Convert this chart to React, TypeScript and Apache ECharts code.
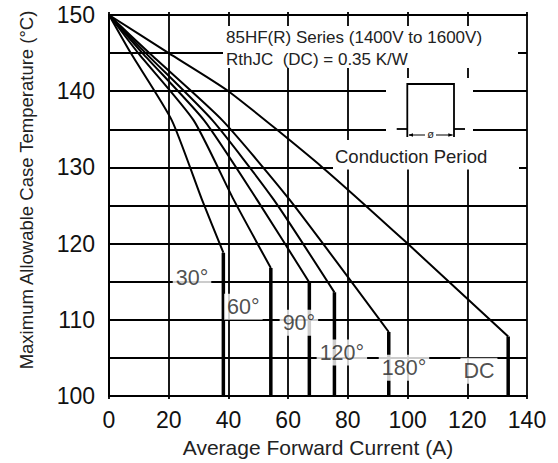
import React, { useEffect, useRef } from "react";
import * as echarts from "echarts";

// ---- data ----
const xTicks = [0, 20, 40, 60, 80, 100, 120, 140];
const yTickLabels = [100, 110, 120, 130, 140, 150];
const yGridStep = 5;

const seriesNames = ["30°", "60°", "90°", "120°", "180°", "DC"];
const curve30 = [[0, 150], [7.3, 145], [21, 136.2], [31.1, 125.8], [38.3, 118.8]];
const curve60 = [[0, 150], [9.8, 145], [28.3, 136.2], [41.7, 125.8], [54.2, 116.8]];
const curve90 = [[0, 150], [11.2, 145], [31.8, 136.2], [49.5, 125.8], [67.1, 114.9]];
const curve120 = [[0, 150], [12.3, 145], [34.6, 136.2], [55.1, 125.8], [75.5, 113.6]];
const curve180 = [[0, 150], [13.5, 145], [37.9, 136.2], [60.4, 125.8], [93.7, 108.4]];
const curveDC = [[0, 150], [20, 145], [40, 140], [71.5, 130], [100, 120], [133.7, 107.8]];
const curves = [curve30, curve60, curve90, curve120, curve180, curveDC];

// curve label anchors (data units)
const labelX = [27.8, 45.0, 63.6, 78.0, 98.8, 123.9];
const labelY = [115.5, 111.7, 109.6, 105.7, 103.7, 103.3];

const FONT = '"Liberation Sans", Arial, Helvetica, sans-serif';

export default function App() {
  const ref = useRef<HTMLDivElement>(null);
  useEffect(() => {
    document.body.style.margin = "0";
    if (!ref.current) return;
    const chart = echarts.init(ref.current, undefined, { renderer: "svg" });
    const xMin = xTicks[0];
    const xMax = xTicks[xTicks.length - 1];
    const xStep = xTicks[1] - xTicks[0];
    const yMin = yTickLabels[0];
    const yMax = yTickLabels[yTickLabels.length - 1];

    const lineSeries: any[] = [];
    curves.forEach((c, i) => {
      lineSeries.push({
        type: "line",
        name: seriesNames[i],
        data: c,
        symbol: "none",
        smooth: 0.2,
        lineStyle: { color: "#000", width: 2, join: "round" },
        z: 3,
      });
      const end = c[c.length - 1];
      lineSeries.push({
        type: "line",
        name: seriesNames[i] + " limit",
        data: [end, [end[0], yMin]],
        symbol: "none",
        lineStyle: { color: "#000", width: 3.5 },
        z: 3,
      });
    });

    const labelSeries = {
      type: "scatter",
      symbolSize: 1,
      itemStyle: { color: "rgba(0,0,0,0)" },
      z: 10,
      data: seriesNames.map((n, i) => ({ name: n, value: [labelX[i], labelY[i]] })),
      label: {
        show: true,
        position: "inside",
        formatter: "{b}",
        color: "#222",
        fontSize: 21.5,
        fontFamily: FONT,
        backgroundColor: "#fff",
        padding: [2, 3, 2, 3],
      },
    };

    const axisCommon = {
      axisLine: { show: true, lineStyle: { color: "#000", width: 1.8 } },
    };
    const gridLine = { show: true, lineStyle: { color: "#000", width: 1.8 } };
    const tickStyle = { color: "#000", width: 1.8 };

    const txt = (text: string, x: number, y: number, size: number) => ({
      type: "text",
      x,
      y,
      z: 20,
      style: {
        text,
        fill: "#222",
        fontSize: size,
        fontFamily: FONT,
        textAlign: "left",
        align: "left",
        textVerticalAlign: "middle",
        verticalAlign: "middle",
      },
    });
    const white = (x: number, y: number, w: number, h: number) => ({
      type: "rect",
      z: 15,
      shape: { x, y, width: w, height: h },
      style: { fill: "#fff" },
    });
    const seg = (x1: number, y1: number, x2: number, y2: number, w = 1.8) => ({
      type: "line",
      z: 20,
      shape: { x1, y1, x2, y2 },
      style: { stroke: "#000", lineWidth: w },
    });

    chart.setOption({
      animation: false,
      grid: { left: 109, right: 31, top: 15, bottom: 66.3, containLabel: false },
      xAxis: [
        {
          type: "value",
          min: xMin,
          max: xMax,
          interval: xStep,
          ...axisCommon,
          axisTick: { show: true, inside: false, length: 3, lineStyle: tickStyle },
          splitLine: gridLine,
          axisLabel: { color: "#111", fontSize: 23, fontFamily: FONT, margin: 12 },
          name: "Average Forward Current (A)",
          nameLocation: "middle",
          nameGap: 41,
          nameTextStyle: { color: "#222", fontSize: 21, fontFamily: FONT },
        },
        {
          type: "value",
          position: "top",
          min: xMin,
          max: xMax,
          interval: xStep,
          ...axisCommon,
          axisTick: { show: true, inside: false, length: 3, lineStyle: tickStyle },
          splitLine: { show: false },
          axisLabel: { show: false },
        },
      ],
      yAxis: [
        {
          type: "value",
          min: yMin,
          max: yMax,
          interval: yGridStep,
          ...axisCommon,
          axisTick: { show: false },
          splitLine: gridLine,
          axisLabel: {
            color: "#111",
            fontSize: 23,
            fontFamily: FONT,
            margin: 14,
            formatter: (v: number) => (yTickLabels.indexOf(v) >= 0 ? String(v) : ""),
          },
        },
        {
          type: "value",
          position: "right",
          min: yMin,
          max: yMax,
          interval: yGridStep,
          ...axisCommon,
          axisTick: { show: true, inside: false, length: 5, lineStyle: tickStyle },
          splitLine: { show: false },
          axisLabel: { show: false },
        },
      ],
      series: [...lineSeries, labelSeries],
      graphic: [
        {
          type: "text",
          x: 26,
          y: 190,
          rotation: Math.PI / 2,
          z: 20,
          style: {
            text: "Maximum Allowable Case Temperature (°C)",
            fill: "#222",
            fontSize: 18.5,
            fontFamily: FONT,
            textAlign: "center",
            align: "center",
            textVerticalAlign: "middle",
            verticalAlign: "middle",
          },
        },
        white(223, 26, 295, 42),
        txt("85HF(R) Series (1400V to 1600V)", 226, 37.5, 17),
        txt("RthJC  (DC) = 0.35 K/W", 226, 59.5, 17),
        white(386, 78, 87, 64),
        white(333, 140, 186, 29.5),
        txt("Conduction Period", 335, 156.5, 18.5),
        {
          type: "polyline",
          z: 20,
          shape: { points: [[407.3, 137], [407.3, 84], [454, 84], [454, 137]] },
          style: { stroke: "#000", lineWidth: 1.8, fill: "none" },
        },
        seg(396.7, 129, 407.3, 129),
        seg(454, 129, 465, 129),
        seg(409, 135, 425, 135, 1),
        seg(436, 135, 452.5, 135, 1),
        {
          type: "polygon",
          z: 20,
          shape: { points: [[408.3, 135], [413, 133.3], [413, 136.7]] },
          style: { fill: "#000" },
        },
        {
          type: "polygon",
          z: 20,
          shape: { points: [[453, 135], [448.3, 133.3], [448.3, 136.7]] },
          style: { fill: "#000" },
        },
        {
          type: "text",
          x: 430.7,
          y: 134,
          z: 20,
          style: {
            text: "ø",
            fill: "#222",
            fontSize: 11,
            fontFamily: FONT,
            textAlign: "center",
            align: "center",
            textVerticalAlign: "middle",
            verticalAlign: "middle",
          },
        },
      ],
    });
    return () => chart.dispose();
  }, []);
  return <div ref={ref} style={{ width: 558, height: 463 }} />;
}
